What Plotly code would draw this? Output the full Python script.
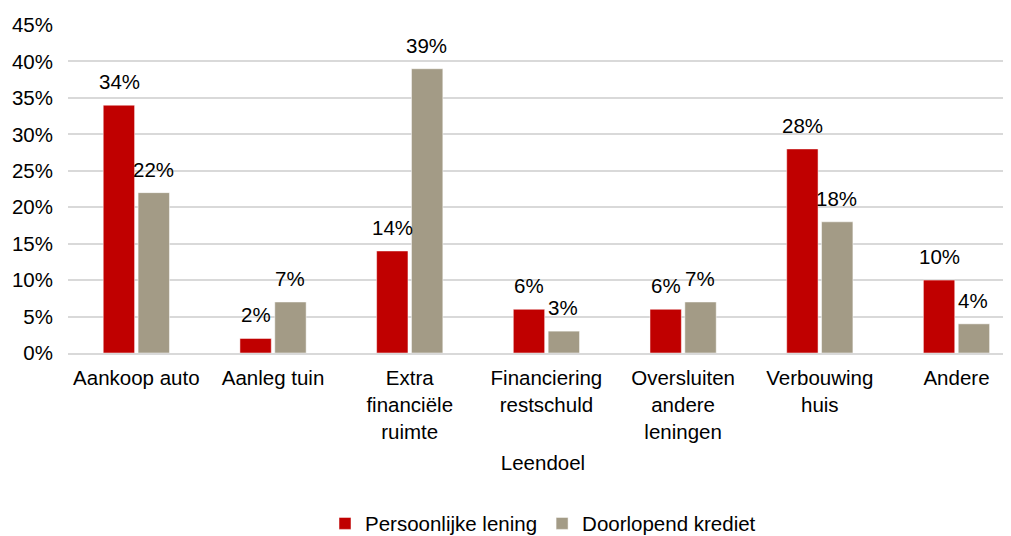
import plotly.graph_objects as go

categories = ["Aankoop auto", "Aanleg tuin", "Extra<br>financiële<br>ruimte",
              "Financiering<br>restschuld", "Oversluiten<br>andere<br>leningen",
              "Verbouwing<br>huis", "Andere"]
persoonlijke_lening = [0.34, 0.02, 0.14, 0.06, 0.06, 0.28, 0.10]
doorlopend_krediet = [0.22, 0.07, 0.39, 0.03, 0.07, 0.18, 0.04]
y_ticks = [0, 0.05, 0.10, 0.15, 0.20, 0.25, 0.30, 0.35, 0.40, 0.45]

font = dict(family="Liberation Sans, Arial, sans-serif", size=20.5, color="#000000")

fig = go.Figure()
fig.add_trace(go.Bar(
    x=categories, y=persoonlijke_lening, name="Persoonlijke lening",
    marker=dict(color="#C00000", line=dict(color="#FFFFFF", width=0.5)),
))
fig.add_trace(go.Bar(
    x=categories, y=doorlopend_krediet, name="Doorlopend krediet",
    marker=dict(color="#A39B86", line=dict(color="#FFFFFF", width=0.5)),
))

# value labels above the bars
for serie, shift in [(persoonlijke_lening, -17), (doorlopend_krediet, 17)]:
    for cat, v in zip(categories, serie):
        fig.add_annotation(x=cat, y=v, text=f"{v:.0%}", showarrow=False,
                           xshift=shift, yshift=10, yanchor="bottom", font=font)

fig.update_layout(
    width=1011, height=536,
    margin=dict(l=60, r=1, t=17, b=184),
    plot_bgcolor="white", paper_bgcolor="white",
    font=font,
    barmode="group", bargap=0.49, bargroupgap=0.1,
    showlegend=True,
    legend=dict(orientation="h", x=0.5, xanchor="center", y=-0.52, yanchor="middle",
                font=font, itemwidth=30, traceorder="normal"),
)
fig.update_yaxes(range=[0, 0.45], tickvals=y_ticks, tickformat=".0%",
                 showgrid=True, gridcolor="#D9D9D9", gridwidth=1.5,
                 zeroline=False, showline=False, ticks="", tickfont=font,
                 ticklabelstandoff=14, automargin=False)
fig.update_xaxes(range=[-0.5, 6.45], showline=True, linecolor="#D9D9D9", linewidth=1.5,
                 ticks="", tickfont=font, ticklabelstandoff=6, automargin=False,
                 title=dict(text="Leendoel", font=font, standoff=14))

fig.write_html("out.html")
